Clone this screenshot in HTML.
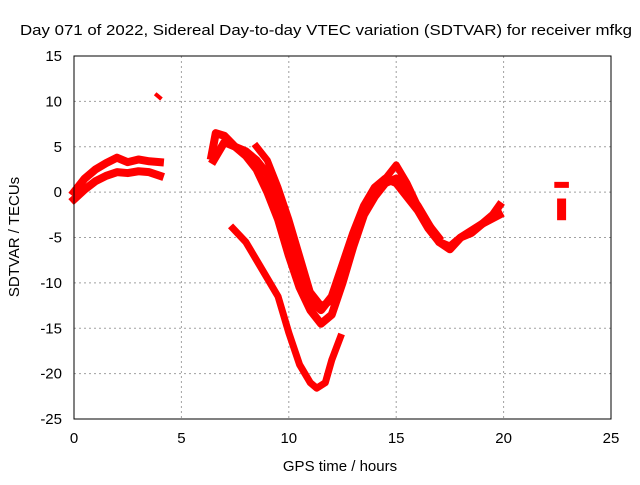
<!DOCTYPE html>
<html><head><meta charset="utf-8"><style>
html,body{margin:0;padding:0;background:#fff;}
svg text{font-family:"Liberation Sans",sans-serif;font-size:14px;fill:#000;}
</style></head><body>
<svg id="chart" width="640" height="480" xmlns="http://www.w3.org/2000/svg">
<rect width="640" height="480" fill="#fff"/>
<text x="20" y="35" textLength="612" lengthAdjust="spacingAndGlyphs" style="font-size:15px">Day 071 of 2022, Sidereal Day-to-day VTEC variation (SDTVAR) for receiver mfkg</text>
<g id="grid"></g>
<g id="ticks"></g>
<g id="series"></g>
<rect x="74" y="56" width="537" height="363" fill="none" stroke="#000" stroke-width="1"/>
<text x="340" y="471" text-anchor="middle" style="font-size:15px">GPS time / hours</text>
<text transform="translate(19,237) rotate(-90)" text-anchor="middle" style="font-size:15px">SDTVAR / TECUs</text>
</svg>
<script>
const xTicks=[0,5,10,15,20,25];
const yTicks=[15,10,5,0,-5,-10,-15,-20,-25];
const seriesEarlyUpper=[[0,0],[0.5,1.5],[1,2.5],[1.5,3.2],[2,3.8],[2.5,3.3],[3,3.6],[3.5,3.4],[4,3.3]];
const seriesEarlyLower=[[0,-0.8],[0.5,0.3],[1,1.2],[1.5,1.8],[2,2.2],[2.5,2.1],[3,2.3],[3.5,2.2],[4,1.8]];
const seriesSpike=[[3.85,10.7],[4.0,10.4]];
const seriesMain1=[[6.4,4],[6.6,6.5],[7,6.2],[7.5,5],[8,4.5],[8.5,3.5],[9,2],[9.5,-1],[10,-5],[10.5,-9],[11,-12],[11.5,-13],[12,-11.5],[12.5,-8],[13,-4.5],[13.5,-1.5],[14,0.5],[14.5,1.5],[15,1],[15.5,-0.5],[16,-2],[16.5,-4],[17,-5.5],[17.5,-6],[18,-5],[18.5,-4.5],[19,-3.5],[19.5,-2.5],[19.8,-1.5]];
const seriesMain2=[[6.5,3.5],[7,5.5],[7.5,5],[8,4],[8.5,2.5],[9,0],[9.5,-3],[10,-7],[10.5,-10.5],[11,-13],[11.5,-14.5],[12,-13.5],[12.5,-10],[13,-6],[13.5,-2.5],[14,-0.5],[14.5,1],[15,1.5],[15.5,0],[16,-1.5],[16.5,-3.5],[17,-5.5],[17.5,-6.3],[18,-5],[19,-3.5],[19.8,-2.5]];
const seriesMain3=[[8.5,5],[9,3.5],[9.5,0.5],[10,-3],[10.5,-7],[11,-11],[11.5,-12.5],[12,-12],[12.5,-9],[13,-5],[13.5,-1.5],[14,0.5],[14.5,1.5],[15,3],[15.5,1],[16,-1.5],[16.5,-3.5],[17,-5]];
const seriesLow=[[7.4,-4],[8,-5.5],[8.5,-7.5],[9,-9.5],[9.5,-11.5],[10,-15.5],[10.5,-19],[11,-21],[11.3,-21.6],[11.7,-21],[12,-18.5],[12.4,-16]];
const seriesLateA=[[22.5,0.8],[22.9,0.8]];
const seriesLateB=[[22.7,-1.2],[22.7,-2.6]];
const X=h=>74+h*537/25, Y=v=>56+(15-v)*363/40;
const NS="http://www.w3.org/2000/svg";
const grid=document.getElementById('grid'),ticks=document.getElementById('ticks'),ser=document.getElementById('series');
function mk(t,a,p){const e=document.createElementNS(NS,t);for(const k in a)e.setAttribute(k,a[k]);p.appendChild(e);return e;}
xTicks.forEach(t=>{const x=X(t);
 if(t>0&&t<25){const g=mk('line',{x1:x,x2:x,y1:56,y2:419,stroke:'#a0a0a0','stroke-dasharray':'2,3'},grid);}
 const l=mk('text',{x:x,y:443,'text-anchor':'middle',style:'font-size:15px'},ticks);l.textContent=t;
 
 });
yTicks.forEach(t=>{const y=Y(t);
 if(t>-25&&t<15){const g=mk('line',{x1:74,x2:611,y1:y,y2:y,stroke:'#a0a0a0','stroke-dasharray':'2,3'},grid);}
 const l=mk('text',{x:62,y:y+5,'text-anchor':'end',style:'font-size:15px'},ticks);l.textContent=t;
 
 });
const all=[[seriesEarlyUpper,8],[seriesEarlyLower,8],[seriesSpike,4],[seriesMain1,8],[seriesMain2,8],[seriesMain3,7],[seriesLow,7],[seriesLateA,6],[seriesLateB,9]];
all.forEach(([d,w])=>{const p=mk('polyline',{points:d.map(q=>X(q[0])+','+Y(q[1])).join(' '),fill:'none',stroke:'#ff0000','stroke-width':w,'stroke-linejoin':'round','stroke-linecap':'square'},ser);
 
 });
</script>
</body></html>
